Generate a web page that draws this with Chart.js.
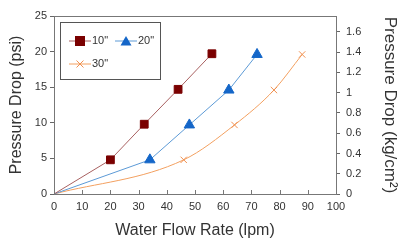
<!DOCTYPE html>
<html lang="en">
<head>
<meta charset="UTF-8">
<title>Pressure Drop</title>
<script src="https://cdn.jsdelivr.net/npm/chart.js"></script>
<style>
  html, body { margin: 0; padding: 0; background: #fff; }
  #wrap { width: 400px; height: 244px; position: relative; }
</style>
</head>
<body>
<div id="wrap"><canvas id="myChart" width="400" height="244"></canvas></div>
<script>
// flow rate (lpm) and pressure drop (psi) for each filter length
const flow10 = [0, 20, 32, 44, 56];
const psi10 = [0, 4.8, 9.8, 14.7, 19.7];
const flow20 = [0, 34, 48, 62, 72];
const psi20 = [0, 4.8, 9.7, 14.6, 19.6];
const flow30 = [0, 46, 64, 78, 88];
const psi30 = [0, 4.8, 9.7, 14.6, 19.6];
const seriesNames = ['10"', '20"', '30"'];
const psiToKg = 0.0703;

function pts(xs, ys) {
    return xs.map((x, i) => ({ x: x, y: ys[i] }));
}

const font = 'Liberation Sans, Arial, sans-serif';

// legend box drawn inside plot, like the original
const boxLegend = {
    id: 'boxLegend',
    afterDraw(chart) {
        const c = chart.ctx;
        const a = chart.chartArea;
        c.save();
        // frame on top of plot + inward x ticks
        c.strokeStyle = '#777';
        c.lineWidth = 1;
        c.beginPath();
        c.moveTo(a.left, a.top + 0.5);
        c.lineTo(a.right, a.top + 0.5);
        const xs = chart.scales.x;
        xs.ticks.forEach(t => {
            const px = Math.round(xs.getPixelForValue(t.value)) + 0.5;
            c.moveTo(px, a.bottom);
            c.lineTo(px, a.bottom - 4);
        });
        c.stroke();
        // legend
        c.strokeStyle = '#555';
        c.strokeRect(60.5, 22.5, 100, 57);
        const spots = [[69, 41], [115, 41], [69, 64]];
        chart.data.datasets.forEach((ds, i) => {
            const [x, y] = spots[i];
            c.strokeStyle = ds.borderColor;
            c.lineWidth = 1;
            c.beginPath();
            c.moveTo(x, y);
            c.lineTo(x + 22, y);
            c.stroke();
            const mx = x + 11;
            c.fillStyle = ds.pointBackgroundColor;
            c.strokeStyle = ds.pointBorderColor;
            if (ds.pointStyle === 'rect') {
                c.fillRect(mx - 5, y - 5, 10, 10);
            } else if (ds.pointStyle === 'triangle') {
                c.beginPath();
                c.moveTo(mx, y - 5);
                c.lineTo(mx + 5.5, y + 4.5);
                c.lineTo(mx - 5.5, y + 4.5);
                c.closePath();
                c.fill();
            } else {
                c.beginPath();
                c.moveTo(mx - 3.5, y - 3.5); c.lineTo(mx + 3.5, y + 3.5);
                c.moveTo(mx + 3.5, y - 3.5); c.lineTo(mx - 3.5, y + 3.5);
                c.stroke();
            }
            c.fillStyle = '#333';
            c.font = '11px ' + font;
            c.textBaseline = 'middle';
            c.fillText(seriesNames[i], x + 23, y);
        });
        c.restore();
    }
};

new Chart(document.getElementById('myChart'), {
    type: 'scatter',
    data: {
        datasets: [{
            label: seriesNames[0],
            data: pts(flow10, psi10),
            showLine: true,
            borderColor: '#a86060',
            borderWidth: 1,
            pointStyle: 'rect',
            pointRadius: ctx => ctx.dataIndex === 0 ? 0 : 5.5,
            pointBackgroundColor: '#7a0000',
            pointBorderColor: '#7a0000',
            tension: 0
        }, {
            label: seriesNames[1],
            data: pts(flow20, psi20),
            showLine: true,
            borderColor: '#5c9ad6',
            borderWidth: 1,
            pointStyle: 'triangle',
            pointRadius: ctx => ctx.dataIndex === 0 ? 0 : 6,
            pointBackgroundColor: '#1466c8',
            pointBorderColor: '#1466c8',
            tension: 0
        }, {
            label: seriesNames[2],
            data: pts(flow30, psi30),
            showLine: true,
            borderColor: '#f3a060',
            borderWidth: 1,
            pointStyle: 'cross',
            rotation: 45,
            pointRadius: ctx => ctx.dataIndex === 0 ? 0 : 4.5,
            pointBackgroundColor: '#f3a060',
            pointBorderColor: '#f09050',
            pointBorderWidth: 1,
            cubicInterpolationMode: 'monotone'
        }]
    },
    options: {
        responsive: false,
        animation: false,
        layout: { padding: { top: 16, left: 7, right: 0, bottom: 0 } },
        plugins: { legend: { display: false }, tooltip: { enabled: false } },
        scales: {
            x: {
                type: 'linear',
                min: 0, max: 100,
                afterFit: s => { s.height = 50; },
                ticks: { stepSize: 10, color: '#333', font: { family: font, size: 11 }, padding: 6, maxRotation: 0 },
                grid: { drawOnChartArea: false, drawTicks: false, color: '#666' },
                border: { color: '#777' },
                title: { display: true, text: 'Water Flow Rate (lpm)', color: '#333', font: { family: font, size: 16 }, padding: { top: 9 } }
            },
            y: {
                min: 0, max: 25,
                afterFit: s => { s.width = 47; },
                ticks: { stepSize: 5, color: '#333', font: { family: font, size: 11 }, padding: 3 },
                grid: { drawOnChartArea: false, tickLength: 4, color: '#666' },
                border: { color: '#777' },
                title: { display: true, text: 'Pressure Drop (psi)', color: '#333', font: { family: font, size: 16 }, padding: 0 }
            },
            y2: {
                position: 'right',
                min: 0, max: 25 * psiToKg,
                afterFit: s => { s.width = 64; },
                afterBuildTicks: s => { s.ticks = s.ticks.filter(t => t.value <= 1.6001); },
                ticks: { stepSize: 0.2, color: '#333', font: { family: font, size: 11 }, padding: 6,
                    callback: v => String(+v.toFixed(1)) },
                grid: { drawOnChartArea: false, tickLength: 4, color: '#666' },
                border: { color: '#777' },
                title: { display: true, text: 'Pressure Drop (kg/cm²)', color: '#333', font: { family: font, size: 17 }, padding: 0 }
            }
        }
    },
    plugins: [boxLegend]
});
</script>
</body>
</html>
